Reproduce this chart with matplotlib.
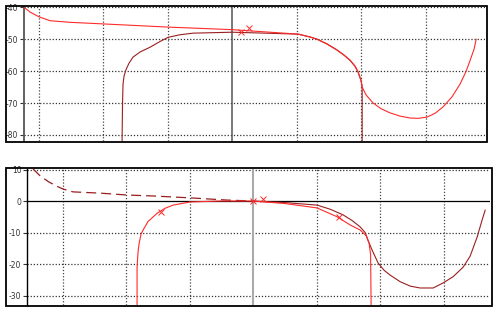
import matplotlib
matplotlib.use("Agg")
import matplotlib.pyplot as plt
import matplotlib.patches as mpatches

# top panel (levels -40 .. -80)
top_yticks = [-40, -50, -60, -70, -80]
top_xgrid = [-3, -2, -1, 1, 2, 3]

top_upper_x = [-3.225, -3.13, -2.99, -2.82, -2.51, -2.0, -0.99, 0.0, 1.023, 1.209, 1.318, 1.473,
               1.628, 1.736, 1.829, 1.907, 1.953, 2.0, 2.016, 2.078, 2.186, 2.31, 2.45, 2.605,
               2.76, 2.884, 3.023, 3.147, 3.271, 3.411, 3.535, 3.628, 3.69, 3.752, 3.783]
top_upper_y = [-40.0, -41.5, -43.0, -44.2, -44.7, -45.2, -46.2, -47.0, -48.4, -49.3, -50.0, -51.5,
               -53.4, -55.0, -56.6, -58.5, -60.3, -63.0, -65.0, -67.5, -70.0, -71.8, -73.1, -74.1,
               -74.7, -74.8, -74.4, -73.2, -71.2, -68.0, -64.0, -60.0, -56.6, -53.0, -50.0]

top_lower_x = [-1.705, -1.698, -1.69, -1.674, -1.643, -1.597, -1.535, -1.426, -1.271, -1.116,
               -0.992, -0.806, -0.605, 0.0, 1.023, 1.209, 1.318, 1.473, 1.628, 1.736, 1.829,
               1.907, 1.953, 2.0, 2.016, 2.016]
top_lower_y = [-82.0, -70.0, -64.0, -61.5, -59.5, -57.5, -55.6, -54.0, -52.5, -50.7,
               -49.4, -48.6, -48.1, -47.8, -48.4, -49.3, -50.0, -51.5, -53.4, -55.0, -56.6,
               -58.5, -60.3, -63.0, -65.0, -82.0]

top_marks_x = [0.14, 0.27]
top_marks_y = [-47.6, -46.4]

# bottom panel (levels 10 .. -30)
bot_yticks = [10, 0, -10, -20, -30]
bot_xgrid = [-3, -2, -1, 1, 2, 3]

bot_dash_x = [-3.465, -3.354, -3.228, -3.102, -2.992, -2.835, -2.409, -1.984, -1.575, -0.992, -0.409, 0.0]
bot_dash_y = [10.2, 8.0, 6.2, 4.8, 3.8, 2.9, 2.5, 1.9, 1.6, 1.0, 0.3, 0.0]

bot_dark_x = [0.0, 0.504, 1.008, 1.213, 1.417, 1.559, 1.685, 1.764, 1.811, 1.874, 1.969, 2.063,
              2.157, 2.315, 2.472, 2.63, 2.835, 2.992, 3.15, 3.307, 3.417, 3.528, 3.606, 3.654]
bot_dark_y = [0.0, -0.5, -1.3, -2.6, -4.4, -6.2, -8.2, -10.0, -12.5, -15.6, -19.7, -22.0,
              -23.5, -25.6, -27.0, -27.6, -27.6, -26.0, -24.0, -21.0, -17.5, -11.4, -6.0, -2.9]

bot_red_x = [-1.827, -1.827, -1.811, -1.795, -1.764, -1.732, -1.654, -1.512, -1.386, -1.26, -0.992,
             -0.52, 0.0, 0.504, 1.008, 1.323, 1.528, 1.685, 1.78, 1.827, 1.85, 1.858]
bot_red_y = [-33.0, -21.0, -16.0, -13.5, -10.5, -9.2, -6.5, -3.9, -2.3, -1.3, -0.3,
             0.0, 0.0, -0.8, -2.2, -5.0, -7.6, -9.2, -11.0, -13.5, -17.0, -33.0]

bot_marks_x = [-1.45, 0.0, 0.15, 1.35]
bot_marks_y = [-3.4, 0.0, 0.6, -5.2]

red = '#ff2a2a'
dark = '#9a1f1f'

fig = plt.figure(figsize=(5, 3.12), dpi=100)
W, H = 500.0, 312.0


def frame(x0, y0, x1, y1):
    # outer black box, pixel coords from top-left
    r = mpatches.Rectangle((x0 / W, 1 - y1 / H), (x1 - x0) / W, (y1 - y0) / H,
                           transform=fig.transFigure, fill=False, edgecolor='black', linewidth=1.3)
    fig.patches.append(r)


def style(ax, yticks, xgrid, spine_color, center_color, center_lw):
    for s in ['top', 'right', 'bottom']:
        ax.spines[s].set_visible(False)
    ax.spines['left'].set_color(spine_color)
    ax.spines['left'].set_linewidth(1.3)
    ax.set_xticks([])
    ax.set_yticks(yticks)
    ax.set_yticklabels([str(v) for v in yticks])
    ax.tick_params(axis='y', length=3, width=0.8, colors='#333333', labelsize=5.5, pad=1)
    for v in yticks:
        if v != 0:
            ax.axhline(v, color='#333333', linestyle=(0, (1, 1.5)), linewidth=0.9, zorder=1)
    for v in xgrid:
        ax.axvline(v, color='#444444', linestyle=(0, (1, 1.5)), linewidth=0.9, zorder=1)
    ax.axvline(0, color=center_color, linewidth=center_lw, zorder=1)


# top
frame(6, 6, 487, 142)
ax1 = fig.add_axes([24 / W, 1 - 141 / H, 461 / W, 134 / H])
ax1.set_xlim(-3.225, 3.92)
ax1.set_ylim(-81.9, -39.9)
style(ax1, top_yticks, top_xgrid, '#555555', '#555555', 1.1)
ax1.plot(top_lower_x, top_lower_y, color=dark, linewidth=0.8, zorder=3)
ax1.plot(top_upper_x, top_upper_y, color=red, linewidth=0.8, zorder=4)
ax1.plot(top_marks_x, top_marks_y, linestyle='none', marker='x', color=red,
         markersize=4, markeredgewidth=0.7, zorder=5)

# bottom
frame(6, 168, 492, 306)
ax2 = fig.add_axes([27 / W, 1 - 305 / H, 463 / W, 136 / H])
ax2.set_xlim(-3.56, 3.73)
ax2.set_ylim(-33.0, 10.16)
style(ax2, bot_yticks, bot_xgrid, 'black', '#aaaaaa', 1.5)
ax2.spines['left'].set_linewidth(1.0)
ax2.axhline(0, color='black', linewidth=0.9, zorder=2)
ax2.plot(bot_dash_x, bot_dash_y, color=dark, linewidth=0.9, linestyle=(0, (8, 4)), zorder=3)
ax2.plot(bot_dark_x, bot_dark_y, color=dark, linewidth=0.8, zorder=3)
ax2.plot(bot_red_x, bot_red_y, color=red, linewidth=0.8, zorder=4)
ax2.plot(bot_marks_x, bot_marks_y, linestyle='none', marker='x', color=red,
         markersize=4, markeredgewidth=0.7, zorder=5)

fig.savefig('out.png', dpi=100)
